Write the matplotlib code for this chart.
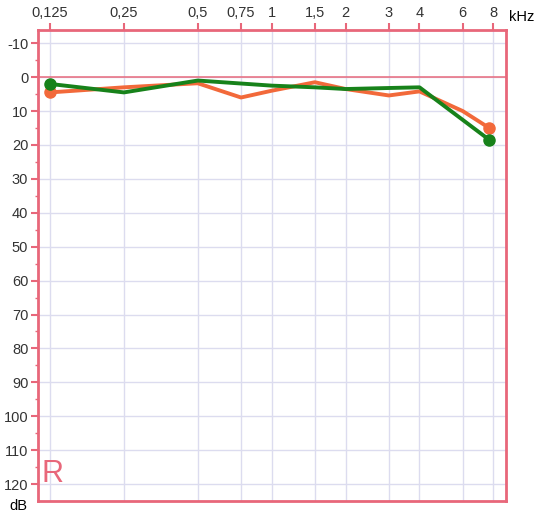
import matplotlib.pyplot as plt
from matplotlib.ticker import FixedLocator, FixedFormatter

plt.rcParams['font.family'] = ['Liberation Sans', 'DejaVu Sans']

# audiogram values (kHz, dB HL)
freqs_ticks = [0.125, 0.25, 0.5, 0.75, 1, 1.5, 2, 3, 4, 6, 8]
freq_labels = ['0,125', '0,25', '0,5', '0,75', '1', '1,5', '2', '3', '4', '6', '8']
db_ticks = list(range(-10, 121, 10))
db_labels = [str(v) for v in db_ticks]

orange_f = [0.125, 0.25, 0.5, 0.75, 1, 1.5, 2, 3, 4, 6, 7.7]
orange_db = [4.5, 3, 1.8, 6, 4, 1.5, 3.5, 5.4, 4.2, 10, 15]

green_f = [0.125, 0.25, 0.5, 1, 1.5, 2, 3, 4, 7.7]
green_db = [2, 4.5, 1, 2.5, 3, 3.5, 3.2, 3, 18.5]

pink = '#e8677a'
grid_col = '#dcdcef'

fig = plt.figure(figsize=(5.36, 5.15), dpi=100)
ax = fig.add_axes([0.0709, 0.0272, 0.873, 0.9145])
ax.set_xscale('log')
ax.set_xlim(0.1117, 9.0)
ax.set_ylim(125, -13.9)

ax.xaxis.set_major_locator(FixedLocator(freqs_ticks))
ax.xaxis.set_major_formatter(FixedFormatter(freq_labels))
ax.xaxis.set_minor_locator(FixedLocator([]))
ax.xaxis.tick_top()
ax.yaxis.set_major_locator(FixedLocator(db_ticks))
ax.yaxis.set_major_formatter(FixedFormatter(db_labels))
ax.yaxis.set_minor_locator(FixedLocator([v + 5 for v in db_ticks[:-1]] + [-15]))

ax.grid(True, which='major', color=grid_col, linewidth=1)
ax.set_axisbelow(True)
for s in ax.spines.values():
    s.set_color(pink)
    s.set_linewidth(2)
ax.tick_params(axis='both', which='both', color=pink, labelcolor='#333333', labelsize=10.5)
ax.tick_params(axis='both', which='major', length=5, width=1.5)
ax.tick_params(axis='y', which='minor', length=2, width=1)
ax.tick_params(axis='x', pad=2)
ax.tick_params(axis='y', pad=2)

ax.axhline(0, color=pink, linewidth=1.2, alpha=0.9)

ax.plot(orange_f, orange_db, color='#f2693a', linewidth=2.8, zorder=3)
ax.plot([orange_f[0], orange_f[-1]], [orange_db[0], orange_db[-1]], 'o',
        color='#f2693a', markersize=8, zorder=4)
ax.plot(green_f, green_db, color='#17821a', linewidth=2.8, zorder=5)
ax.plot([green_f[0], green_f[-1]], [green_db[0], green_db[-1]], 'o',
        color='#17821a', markersize=8, zorder=6)

ax.text(0.1155, 119.4, 'R', color=pink, fontsize=22, ha='left', va='baseline')
fig.text(0.949, 0.967, 'kHz', fontsize=10.5, color='black', ha='left', va='center')
fig.text(0.018, 0.003, 'dB', fontsize=10.5, color='black', ha='left', va='bottom')

fig.savefig('out.png', dpi=100)
